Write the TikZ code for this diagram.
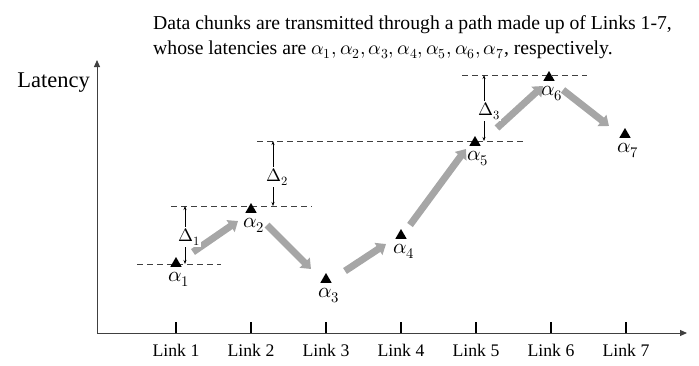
\documentclass[tikz,border=0pt]{standalone}
\usepackage{fontspec}
\usepackage{unicode-math}
\setmainfont{Liberation Serif}
\setmathfont{latinmodern-math.otf}
\usetikzlibrary{arrows.meta,shapes.geometric}
\definecolor{arrgray}{HTML}{A6A6A6}
\definecolor{axisgray}{HTML}{404040}
\begin{document}
\begin{tikzpicture}[x=1pt,y=-1pt,
  tri/.style={regular polygon, regular polygon sides=3, fill=black, draw=none, minimum size=13pt, inner sep=0pt},
  alab/.style={anchor=north, inner sep=0pt, font=\fontsize{21}{21}\selectfont, xshift=3pt, yshift=-5pt},
  flow/.style={draw=arrgray, line width=7pt, -{Triangle[length=9pt,width=14pt]}},
  level/.style={draw=axisgray, dash pattern=on 6pt off 4pt, line width=0.8pt},
  delta/.style={draw=black, line width=0.6pt, {Stealth[length=4pt,width=3pt]}-{Stealth[length=4pt,width=3pt]}},
  dlab/.style={fill=white, inner sep=1pt, font=\fontsize{18}{18}\selectfont},
  axis/.style={draw=axisgray, line width=1pt, -{Triangle[length=7pt,width=6pt]}},
  tick/.style={draw=black, line width=1.3pt},
  linklab/.style={font=\fontsize{17.7}{17.7}\selectfont, inner sep=0pt},
  titlefont/.style={font=\fontsize{19.7}{25}\selectfont, inner sep=0pt, anchor=base west}
]
\useasboundingbox (0,0) rectangle (699,365);

% title
\node[titlefont] (title1) at (153,29)
  {Data chunks are transmitted through a path made up of Links 1-7,};
\node[titlefont] (title2) at (153,54)
  {whose latencies are $\alpha_1,\alpha_2,\alpha_3,\alpha_4,\alpha_5,\alpha_6,\alpha_7$, respectively.};

% axes
\coordinate (origin) at (97,333);
\coordinate (ytop) at (97,60);
\coordinate (xend) at (687,333);
\draw[axis] (origin) -- (ytop);
\draw[axis] (origin) -- (xend);
\node[anchor=base east, inner sep=0pt, font=\fontsize{22.5}{22.5}\selectfont] (ylab) at (90,87) {Latency};

% ticks and link labels
\foreach \i/\x in {1/176,2/251,3/326,4/401,5/476,6/551,7/626}{
  \coordinate (tk\i) at (\x,333);
  \draw[tick] (tk\i) -- ++(0,-11);
  \node[linklab] (link\i) at (\x,350) {Link \i};
}

% level lines
\coordinate (d1a) at (137,264); \coordinate (d1b) at (221,264);
\coordinate (d2a) at (171,206); \coordinate (d2b) at (312,206);
\coordinate (d3a) at (257,141); \coordinate (d3b) at (526,141);
\coordinate (d4a) at (462,75);  \coordinate (d4b) at (587,75);
\draw[level] (d1a) -- (d1b);
\draw[level] (d2a) -- (d2b);
\draw[level] (d3a) -- (d3b);
\draw[level] (d4a) -- (d4b);

% triangles (latency markers)
\node[tri] (t1) at (176,263.5) {};
\node[tri] (t2) at (251,209.5) {};
\node[tri] (t3) at (326,279.5) {};
\node[tri] (t4) at (401,235.5) {};
\node[tri] (t5) at (475,142.5) {};
\node[tri] (t6) at (549,77.5) {};
\node[tri] (t7) at (625,134.5) {};

% alpha labels
\node[alab] (a1) at (t1.south) {$\alpha_1$};
\node[alab] (a2) at (t2.south) {$\alpha_2$};
\node[alab] (a3) at (t3.south) {$\alpha_3$};
\node[alab] (a4) at (t4.south) {$\alpha_4$};
\node[alab] (a5) at (t5.south) {$\alpha_5$};
\node[alab] (a6) at (t6.south) {$\alpha_6$};
\node[alab] (a7) at (t7.south) {$\alpha_7$};

% flow arrows
\coordinate (f1s) at (193,252); \coordinate (f1e) at (238,221);
\coordinate (f2s) at (267,225); \coordinate (f2e) at (311,269);
\coordinate (f3s) at (345,271); \coordinate (f3e) at (386,244);
\coordinate (f4s) at (410,225); \coordinate (f4e) at (466,149);
\coordinate (f5s) at (497,128); \coordinate (f5e) at (543,86);
\coordinate (f6s) at (563,90);  \coordinate (f6e) at (609,126);
\draw[flow] (f1s) -- (f1e);
\draw[flow] (f2s) -- (f2e);
\draw[flow] (f3s) -- (f3e);
\draw[flow] (f4s) -- (f4e);
\draw[flow] (f5s) -- (f5e);
\draw[flow] (f6s) -- (f6e);

% delta markers
\coordinate (D1t) at (185,206); \coordinate (D1b) at (185,264);
\coordinate (D2t) at (273,141); \coordinate (D2b) at (273,206);
\coordinate (D3t) at (484,75);  \coordinate (D3b) at (484,141);
\draw[delta] (D1t) -- (D1b);
\draw[delta] (D2t) -- (D2b);
\draw[delta] (D3t) -- (D3b);
\node[dlab] (L1) at (189,237) {$\Delta_1$};
\node[dlab] (L2) at (277,177) {$\Delta_2$};
\node[dlab] (L3) at (489,111) {$\Delta_3$};
\end{tikzpicture}
\end{document}
